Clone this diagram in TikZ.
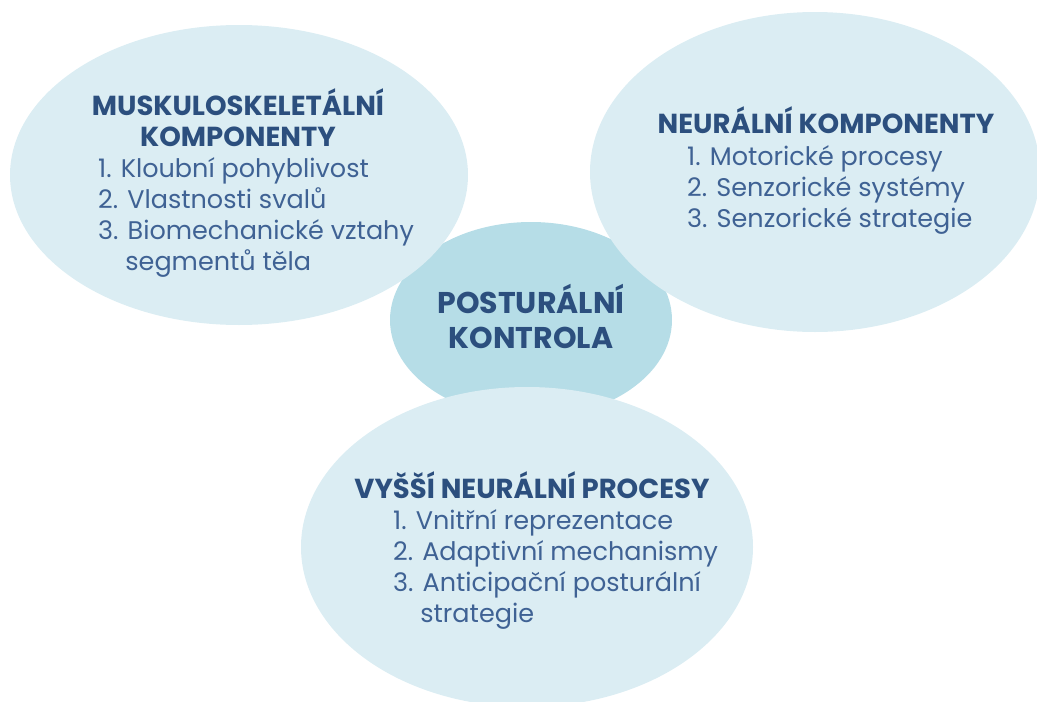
\documentclass[tikz,border=0pt]{standalone}
\usepackage{fontspec}
\setmainfont{Poppins}
\usepackage{tikz}
\usetikzlibrary{positioning,shapes.geometric}
\definecolor{bubblefill}{HTML}{DBEDF3}
\definecolor{corefill}{HTML}{B6DDE7}
\definecolor{ink}{HTML}{2C4F7E}
\definecolor{inklight}{HTML}{3F6294}

\begin{document}
\begin{tikzpicture}[
    x=1pt, y=-1pt,
    bubble/.style={
        ellipse, fill=bubblefill, inner sep=0pt
    },
    heading/.style={
        text=ink, inner sep=0pt, align=center, anchor=base,
        font=\fontsize{27.5}{31}\selectfont\bfseries
    },
    items/.style={
        text=inklight, inner sep=0pt, align=left, anchor=base west,
        font=\fontsize{25.5}{31}\selectfont
    }
]
\useasboundingbox (0,0) rectangle (1037,702);
\clip (0,0) rectangle (1037,702);

\node[bubble, fill=corefill, minimum width=282pt, minimum height=196pt] (kontrola) at (531,320) {};
\node[bubble, minimum width=458pt, minimum height=300pt] (musk) at (239,175) {};
\node[bubble, minimum width=450pt, minimum height=320pt] (neural) at (815,172) {};
\node[bubble, minimum width=452pt, minimum height=320pt] (vyssi) at (527,547) {};

\node[heading, font=\fontsize{30}{35}\selectfont\bfseries] (kontrolaTitle) at (531,348) {POSTURÁLNÍ\\KONTROLA};

\node[heading] (muskTitle) at (238,146) {MUSKULOSKELETÁLNÍ\\KOMPONENTY};
\node[items] (muskList) at (98,270) {1. Kloubní pohyblivost\\2. Vlastnosti svalů\\3. Biomechanické vztahy\\\phantom{3.}\ segmentů těla};

\node[heading] (neuralTitle) at (826,133) {NEURÁLNÍ KOMPONENTY};
\node[items] (neuralList) at (687,227) {1. Motorické procesy\\2. Senzorické systémy\\3. Senzorické strategie};

\node[heading] (vyssiTitle) at (532,498) {VYŠŠÍ NEURÁLNÍ PROCESY};
\node[items] (vyssiList) at (393,622) {1. Vnitřní reprezentace\\2. Adaptivní mechanismy\\3. Anticipační posturální\\\phantom{3.}\ strategie};
\end{tikzpicture}
\end{document}
